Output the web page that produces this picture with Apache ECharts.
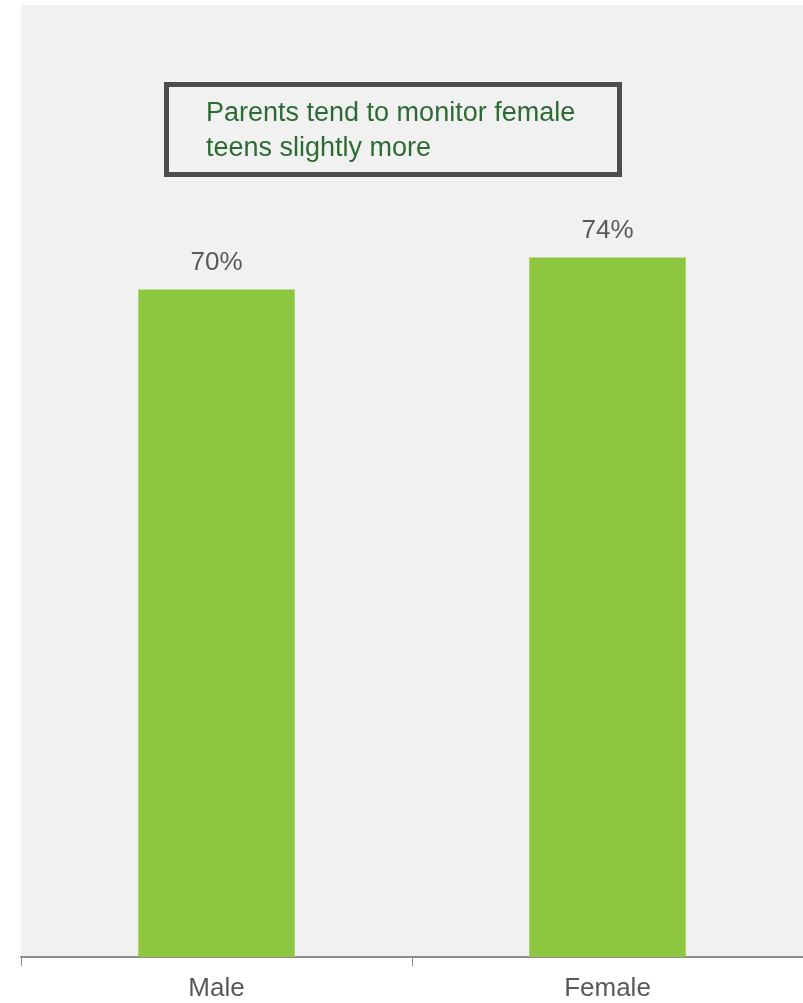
<!DOCTYPE html>
<html>
<head>
<meta charset="utf-8">
<script src="https://cdn.jsdelivr.net/npm/echarts@6/dist/echarts.min.js"></script>
<style>
html,body{margin:0;padding:0;background:#ffffff;}
#chart{width:803px;height:1003px;}
</style>
</head>
<body>
<div id="chart"></div>
<script>
const categories = ['Male', 'Female'];
const values = [70.6, 74.0];
const valueLabels = ['70%', '74%'];
const noteText = 'Parents tend to monitor female\nteens slightly more';

const chart = echarts.init(document.getElementById('chart'));
chart.setOption({
  animation: false,
  backgroundColor: '#ffffff',
  textStyle: { fontFamily: 'Liberation Sans, Arial, sans-serif' },
  grid: {
    left: 21, top: 5, width: 784, height: 952,
    show: true, backgroundColor: '#f1f1f1', borderWidth: 0
  },
  xAxis: {
    type: 'category',
    data: categories,
    axisLine: { show: true, lineStyle: { color: '#8c8c8c', width: 2 } },
    axisTick: { show: true, length: 9, lineStyle: { color: '#8c8c8c', width: 1 } },
    axisLabel: { color: '#595959', fontSize: 26, margin: 19 }
  },
  yAxis: {
    type: 'value',
    min: 0,
    max: 100.7,
    show: false,
    splitLine: { show: false }
  },
  series: [{
    type: 'bar',
    data: values,
    barWidth: '40%',
    itemStyle: { color: '#8dc63f' },
    label: {
      show: true,
      position: 'top',
      distance: 14,
      fontSize: 26,
      color: '#595959',
      formatter: p => valueLabels[p.dataIndex]
    }
  }],
  graphic: [{
    type: 'rect',
    shape: { x: 166.5, y: 84.5, width: 453, height: 90 },
    style: { fill: 'transparent', stroke: '#4d4d4d', lineWidth: 5 },
    z: 100
  }, {
    type: 'text',
    x: 206,
    y: 96,
    style: {
      text: noteText,
      font: '27px "Liberation Sans", Arial, sans-serif',
      lineHeight: 35,
      fill: '#2e6b34',
      textVerticalAlign: 'top',
      textAlign: 'left'
    },
    z: 100
  }]
});
</script>
</body>
</html>
